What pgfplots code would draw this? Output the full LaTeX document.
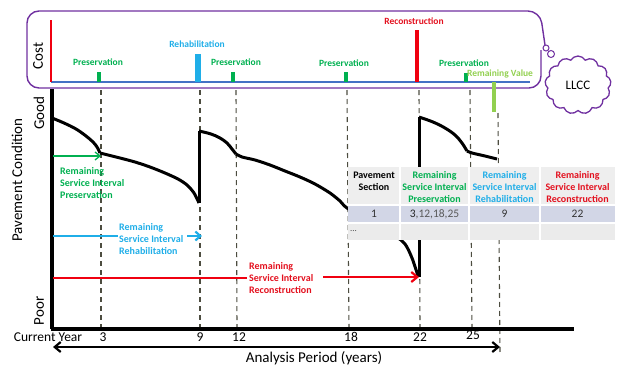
\documentclass[border=0pt]{standalone}
\usepackage{pgfplots}
\pgfplotsset{compat=1.18}
\usepackage{fontspec}
\setmainfont{Carlito}
\usetikzlibrary{arrows.meta,shapes.symbols}
\definecolor{pgreen}{HTML}{00B050}
\definecolor{pblue}{HTML}{1FAEE8}
\definecolor{pred}{HTML}{F00010}
\definecolor{tred}{HTML}{E3101E}
\definecolor{lgreen}{HTML}{92D050}
\definecolor{ppurple}{HTML}{7030A0}
\definecolor{baseblue}{HTML}{4472C4}
\definecolor{dashcol}{HTML}{4D4D40}
\definecolor{hdrbg}{HTML}{EEEEEE}
\definecolor{row1bg}{HTML}{D2D6E6}
\definecolor{row2bg}{HTML}{EBEBEB}
\newcommand\fbig{\fontsize{15}{18}\selectfont}
\newcommand\ftick{\fontsize{13.5}{16}\selectfont}
\newcommand\fsmall{\bfseries\fontsize{10}{12.5}\selectfont}
\newcommand\ftop{\bfseries\fontsize{9.5}{11}\selectfont}
\begin{document}
\begin{tikzpicture}
\begin{axis}[width=624pt,height=370pt,scale only axis,hide axis,
  xmin=0,xmax=624,ymin=0,ymax=370,y dir=reverse,clip=false]
\path (axis cs:0,0) rectangle (axis cs:624,370);
% ---- cost panel box
\draw[ppurple,line width=1.4pt,rounded corners=12pt] (axis cs:541,50) -- (axis cs:541,88) -- (axis cs:27,88) -- (axis cs:27,11) -- (axis cs:540,11) -- (axis cs:545,45);
\draw[ppurple,line width=1pt,fill=white] (axis cs:546,48) circle[radius=3pt];
\draw[ppurple,line width=1pt,fill=white] (axis cs:551,54) circle[radius=3.5pt];
\node[cloud,cloud puffs=13,cloud puff arc=120,aspect=1.15,draw=ppurple,line width=1.3pt,fill=white,minimum width=66pt,minimum height=58pt,inner sep=0pt] at (axis cs:578,85) {\fontsize{13}{15}\selectfont LLCC};
% cost baseline and axis
\addplot[baseblue,line width=1.3pt] coordinates {(51,82) (530,82)};
\addplot[pred,line width=2.5pt] coordinates {(51,20) (51,82)};
% cost bars
\addplot[pgreen,line width=4pt] coordinates {(99,82) (99,72)};
\addplot[pblue,line width=5.5pt] coordinates {(198,82) (198,54)};
\addplot[pgreen,line width=4pt] coordinates {(233,82) (233,72)};
\addplot[pgreen,line width=4pt] coordinates {(346,82) (346,72)};
\addplot[pred,line width=4pt] coordinates {(417,82) (417,30)};
\addplot[pgreen,line width=4pt] coordinates {(466,82) (466,73)};
\addplot[lgreen,line width=4pt] coordinates {(494,82) (494,112)};
% cost labels
\node[rotate=90] at (axis cs:38,56) {\fbig Cost};
\node[pgreen] at (axis cs:98,62) {\ftop Preservation};
\node[pblue] at (axis cs:197,44) {\ftop Rehabilitation};
\node[pgreen] at (axis cs:236,62) {\ftop Preservation};
\node[pgreen] at (axis cs:344,63) {\ftop Preservation};
\node[tred] at (axis cs:414,21) {\ftop Reconstruction};
\node[pgreen] at (axis cs:464,63) {\ftop Preservation};
\node[lgreen] at (axis cs:500,74) {\ftop Remaining Value};
% ---- dashed year lines
\addplot[dashcol,line width=1.1pt,dash pattern=on 5pt off 4pt] coordinates {(101,90) (101,329)};
\addplot[dashcol,line width=1.1pt,dash pattern=on 5pt off 4pt] coordinates {(200,90) (200,329)};
\addplot[dashcol,line width=1.1pt,dash pattern=on 5pt off 4pt] coordinates {(236,90) (237,329)};
\addplot[dashcol,line width=1.1pt,dash pattern=on 5pt off 4pt] coordinates {(347,90) (349,329)};
\addplot[dashcol,line width=1.1pt,dash pattern=on 5pt off 4pt] coordinates {(419,90) (420,329)};
\addplot[dashcol,line width=1.1pt,dash pattern=on 5pt off 4pt] coordinates {(470,90) (472,329)};
\addplot[dashcol,line width=1.1pt,dash pattern=on 5pt off 4pt] coordinates {(498,113) (500,352)};
% ---- condition curve
\addplot[black,line width=3pt,smooth,tension=0.6] coordinates {(52,118) (64,123) (76,129) (86,136) (93,142) (97,147) (100,153)};
\addplot[black,line width=3pt,smooth,tension=0.5] coordinates {(100,153) (104,154) (120,158) (135,162) (150,167) (165,173) (178,179) (187,185) (194,193) (199,203)};
\addplot[black,line width=3pt] coordinates {(199,203) (199,131)};
\addplot[black,line width=3pt,smooth,tension=0.6] coordinates {(199,131) (211,134) (220,138) (227,143) (232,149) (236,154)};
\addplot[black,line width=3pt,smooth,tension=0.5] coordinates {(236,154) (242,157) (255,160) (270,165) (285,171) (300,177) (315,184) (330,193) (340,201) (347,208) (370,222) (395,236) (405,244) (412,258) (418,276)};
\addplot[black,line width=3pt] coordinates {(419,277) (419,117)};
\addplot[black,line width=3pt,smooth,tension=0.6] coordinates {(419,117) (433,122) (445,128) (455,135) (462,143) (467,151)};
\addplot[black,line width=3pt,smooth,tension=0.5] coordinates {(467,151) (472,153) (485,156) (497,159)};
% ---- main axes
\addplot[black,line width=3.5pt] coordinates {(52,89) (52,329)};
\addplot[black,line width=3.5pt] coordinates {(50.5,329) (574,329)};
% ---- arrows
\addplot[pgreen,line width=1.3pt,-{Straight Barb[length=5pt,width=8pt]}] coordinates {(53,156) (101,156)};
\addplot[pblue,line width=2.2pt] coordinates {(53,236) (118,236)};
\addplot[pblue,line width=2.2pt,-{Straight Barb[length=5pt,width=9pt]}] coordinates {(187,236) (202,236)};
\addplot[pred,line width=2.2pt] coordinates {(53,278) (247,278)};
\addplot[pred,line width=2.2pt,-{Straight Barb[length=6pt,width=10pt]}] coordinates {(323,277) (419,277)};
\addplot[black,line width=2.2pt,{Straight Barb[length=6pt,width=10pt]}-{Straight Barb[length=6pt,width=10pt]}] coordinates {(53,347) (500,347)};
% arrow labels
\node[pgreen,anchor=west,align=left,inner sep=0pt] at (axis cs:60,183) {\fsmall Remaining\\ \fsmall Service Interval\\ \fsmall Preservation};
\node[pblue,anchor=west,align=left,inner sep=0pt] at (axis cs:119,239) {\fsmall Remaining\\ \fsmall Service Interval\\ \fsmall Rehabilitation};
\node[tred,anchor=west,align=left,inner sep=0pt] at (axis cs:249,278) {\fsmall Remaining\\ \fsmall Service Interval\\ \fsmall Reconstruction};
% ---- table
\fill[hdrbg] (axis cs:348,167) rectangle (axis cs:615,205);
\fill[row1bg] (axis cs:348,205) rectangle (axis cs:615,223);
\fill[row2bg] (axis cs:348,223) rectangle (axis cs:615,240);
\draw[white,line width=1.5pt] (axis cs:348,205) -- (axis cs:615,205);
\draw[white,line width=1.5pt] (axis cs:348,223) -- (axis cs:615,223);
\draw[white,line width=1.5pt] (axis cs:400,167) -- (axis cs:400,240);
\draw[white,line width=1.5pt] (axis cs:469,167) -- (axis cs:469,240);
\draw[white,line width=1.5pt] (axis cs:540,167) -- (axis cs:540,240);
\node[black,align=center] at (axis cs:374,181) {\fsmall Pavement\\ \fsmall Section};
\node[pgreen,align=center] at (axis cs:434.5,187) {\fsmall Remaining\\ \fsmall Service Interval\\ \fsmall Preservation};
\node[pblue,align=center] at (axis cs:504.5,187) {\fsmall Remaining\\ \fsmall Service Interval\\ \fsmall Rehabilitation};
\node[tred,align=center] at (axis cs:577.5,187) {\fsmall Remaining\\ \fsmall Service Interval\\ \fsmall Reconstruction};
\node[black!80] at (axis cs:374,214) {\fontsize{11.5}{13}\selectfont 1};
\node[black!65] at (axis cs:434.5,214) {\fontsize{11.5}{13}\selectfont\textcolor{black!85}{3},12,18,25};
\node[black!80] at (axis cs:504.5,214) {\fontsize{11.5}{13}\selectfont 9};
\node[black!80] at (axis cs:577.5,214) {\fontsize{11.5}{13}\selectfont 22};
\node[black!70,anchor=west,inner sep=0pt] at (axis cs:350,231) {\fontsize{9}{10}\selectfont ...};
% ---- axis labels
\node[rotate=90] at (axis cs:39,113) {\fbig Good};
\node[rotate=90] at (axis cs:39,311) {\fbig Poor};
\node[rotate=90] at (axis cs:17,180) {\fbig Pavement Condition};
\node at (axis cs:48,337) {\ftick Current Year};
\node at (axis cs:103,337) {\ftick 3};
\node at (axis cs:200,337) {\ftick 9};
\node at (axis cs:239,337) {\ftick 12};
\node at (axis cs:351,337) {\ftick 18};
\node at (axis cs:420,337) {\ftick 22};
\node at (axis cs:473,335) {\ftick 25};
\node at (axis cs:314,358) {\fbig Analysis Period (years)};
\end{axis}
\end{tikzpicture}
\end{document}
